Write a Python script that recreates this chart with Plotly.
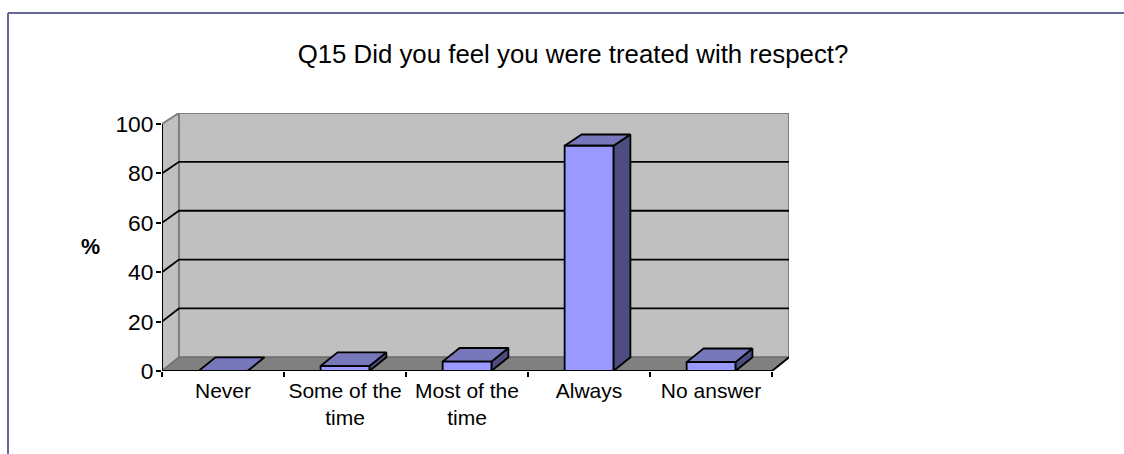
import plotly.graph_objects as go

categories = ["Never", "Some of the<br>time", "Most of the<br>time", "Always", "No answer"]
values = [0, 2.0, 3.8, 91.2, 3.6]
y_ticks = [0, 20, 40, 60, 80, 100]

W, H = 1124, 454
L, R, T, B = 162, 789, 113, 370.7
XMIN, XMAX = -0.5, 4.639
YMAX = 104.46
DX = 0.139     # depth offset in category units
DY = 5.55      # depth offset in value units
SC = 0.989     # back-plane scale
BW = 0.4
FONT = "Liberation Sans, Arial, sans-serif"
PURPLE = "#666699"


def back(v):
    return DY + v * SC


def poly(xs, ys, fill, line="#000000", lw=1.8):
    return go.Scatter(x=xs, y=ys, mode="lines", fill="toself", fillcolor=fill,
                      line=dict(color=line, width=lw), hoverinfo="skip",
                      showlegend=False, cliponaxis=False)


def seg(xs, ys, color="#000000", lw=1.8):
    return go.Scatter(x=xs, y=ys, mode="lines", line=dict(color=color, width=lw),
                      hoverinfo="skip", showlegend=False, cliponaxis=False)


fig = go.Figure()
x0, x1, xb0, xb1 = XMIN, XMIN + 5, XMIN + DX, XMIN + 5 + DX

# back wall, side wall, floor
fig.add_trace(poly([xb0, xb1, xb1, xb0, xb0], [back(0), back(0), back(100), back(100), back(0)], "#C0C0C0", "#808080", 2))
fig.add_trace(poly([x0, xb0, xb0, x0, x0], [0, back(0), back(100), 100, 0], "#C0C0C0", "#808080", 2))
fig.add_trace(poly([x0, x1, xb1, xb0, x0], [0, 0, back(0), back(0), 0], "#808080", "#707070", 1.5))

# gridlines on both walls
for t in y_ticks[1:-1]:
    fig.add_trace(seg([x0, xb0, xb1], [t, back(t), back(t)]))
fig.add_trace(seg([x1, xb1], [0, back(0)]))
fig.add_trace(seg([x0, x0], [0, 100], lw=2))
fig.add_trace(seg([x0, x1], [0, 0], lw=2))

# depth faces of the columns
for i, v in enumerate(values):
    a, b = i - BW / 2, i + BW / 2
    fig.add_trace(poly([b, b + DX, b + DX, b, b], [0, back(0), back(v), v, 0], "#4D4D80"))
    fig.add_trace(poly([a, b, b + DX, a + DX, a], [v, v, back(v), back(v), v], "#7777BB"))

# front faces of the columns
fig.add_trace(go.Bar(x=categories, y=values, xaxis="x2", yaxis="y", width=BW,
                     marker=dict(color="#9999FF", line=dict(color="#000000", width=1.8)),
                     hoverinfo="skip", showlegend=False, cliponaxis=False))


def px(x):
    return (x - L) / (R - L)


def py(y):
    return (B - y) / (B - T)


frame = dict(line=dict(color=PURPLE, width=2), xref="paper", yref="paper", type="line")
shapes = [
    dict(x0=px(8), x1=px(8), y0=py(13), y1=py(H), **frame),
    dict(x0=px(8), x1=px(W), y0=py(13), y1=py(13), **frame),
]

fig.update_layout(
    width=W, height=H, autosize=False,
    margin=dict(l=L, r=W - R, t=T, b=H - B, pad=0),
    paper_bgcolor="#FFFFFF", plot_bgcolor="rgba(0,0,0,0)",
    font=dict(family=FONT, color="#000000"),
    showlegend=False, shapes=shapes,
    title=dict(text="Q15 Did you feel you were treated with respect?",
               x=573 / W, xanchor="center", xref="container",
               y=1 - 54 / H, yanchor="middle", yref="container",
               font=dict(size=25.8, family=FONT, color="#000000")),
    xaxis=dict(range=[XMIN, XMAX], visible=False, fixedrange=True),
    xaxis2=dict(type="category", overlaying="x", anchor="y", side="bottom",
                range=[XMIN, XMAX], tickson="boundaries", ticks="outside",
                ticklen=5, tickwidth=1.8, tickcolor="#000000", ticklabelstandoff=5,
                showgrid=False, showline=False, zeroline=False, tickangle=0,
                tickfont=dict(size=21, family=FONT, color="#000000"), fixedrange=True),
    yaxis=dict(range=[0, YMAX], tickvals=y_ticks, ticks="outside", ticklen=5,
               tickwidth=1.8, tickcolor="#000000", showgrid=False, showline=False,
               ticklabelstandoff=-2,
               zeroline=False, tickfont=dict(size=22.8, family=FONT, color="#000000"),
               fixedrange=True),
    annotations=[dict(text="<b>%</b>", xref="paper", yref="paper", x=px(90.3), y=py(246.7),
                      xanchor="center", yanchor="middle", showarrow=False,
                      font=dict(size=21.5, family=FONT, color="#000000"))],
)

fig.write_html("out.html", config={"displayModeBar": False},
               post_script="document.body.style.margin='0';")
